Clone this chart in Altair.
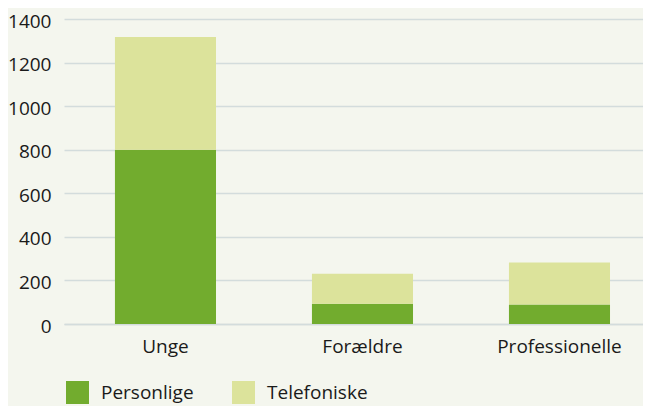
import altair as alt
import pandas as pd

categories = ["Unge", "Forældre", "Professionelle"]
personlige = [800, 93, 89]
telefoniske = [517, 138, 193]
series = ["Personlige", "Telefoniske"]
y_ticks = [0, 200, 400, 600, 800, 1000, 1200, 1400]

rows = []
for c, p, t in zip(categories, personlige, telefoniske):
    rows.append({"gruppe": c, "type": series[0], "antal": p, "ord": 0})
    rows.append({"gruppe": c, "type": series[1], "antal": t, "ord": 1})
df = pd.DataFrame(rows)

FONT = "Open Sans"
TXT = "#1a1a1a"
GRID = "#d3dcdc"

chart = alt.Chart(df).mark_bar().encode(
    x=alt.X("gruppe:N", sort=categories, title=None,
            scale=alt.Scale(paddingInner=0.487, paddingOuter=0.213, align=0.607),
            axis=alt.Axis(labelAngle=0, ticks=False, tickSize=0, labelPadding=13,
                          domain=True, domainColor=GRID, domainWidth=1.5,
                          labelFont=FONT, labelFontSize=19, labelColor=TXT)),
    y=alt.Y("antal:Q", stack="zero", title=None,
            scale=alt.Scale(domain=[0, 1400], nice=False),
            axis=alt.Axis(values=y_ticks, format="d", ticks=False, tickSize=0,
                          labelPadding=13, labelOffset=2, domain=False, grid=True,
                          gridColor=GRID, gridWidth=1.5,
                          labelFont=FONT, labelFontSize=19, labelColor=TXT)),
    color=alt.Color("type:N", sort=series, title=None,
                    scale=alt.Scale(domain=series, range=["#72ac2e", "#dce39b"]),
                    legend=alt.Legend(orient="none", direction="horizontal",
                                      legendX=2, legendY=362, padding=0,
                                      symbolType="square", symbolSize=529,
                                      symbolStrokeWidth=0, symbolOpacity=1,
                                      labelOffset=12, columnPadding=38,
                                      labelFont=FONT, labelFontSize=19,
                                      labelColor=TXT)),
    order=alt.Order("ord:Q"),
).properties(
    width=579, height=305,
    autosize=alt.AutoSizeParams(type="none"),
    padding={"left": 56, "top": 11, "right": 0, "bottom": 82},
    background="#f4f6ee",
).configure_view(stroke=None)

chart.save("out.html", embed_options={"renderer": "svg", "actions": False})
